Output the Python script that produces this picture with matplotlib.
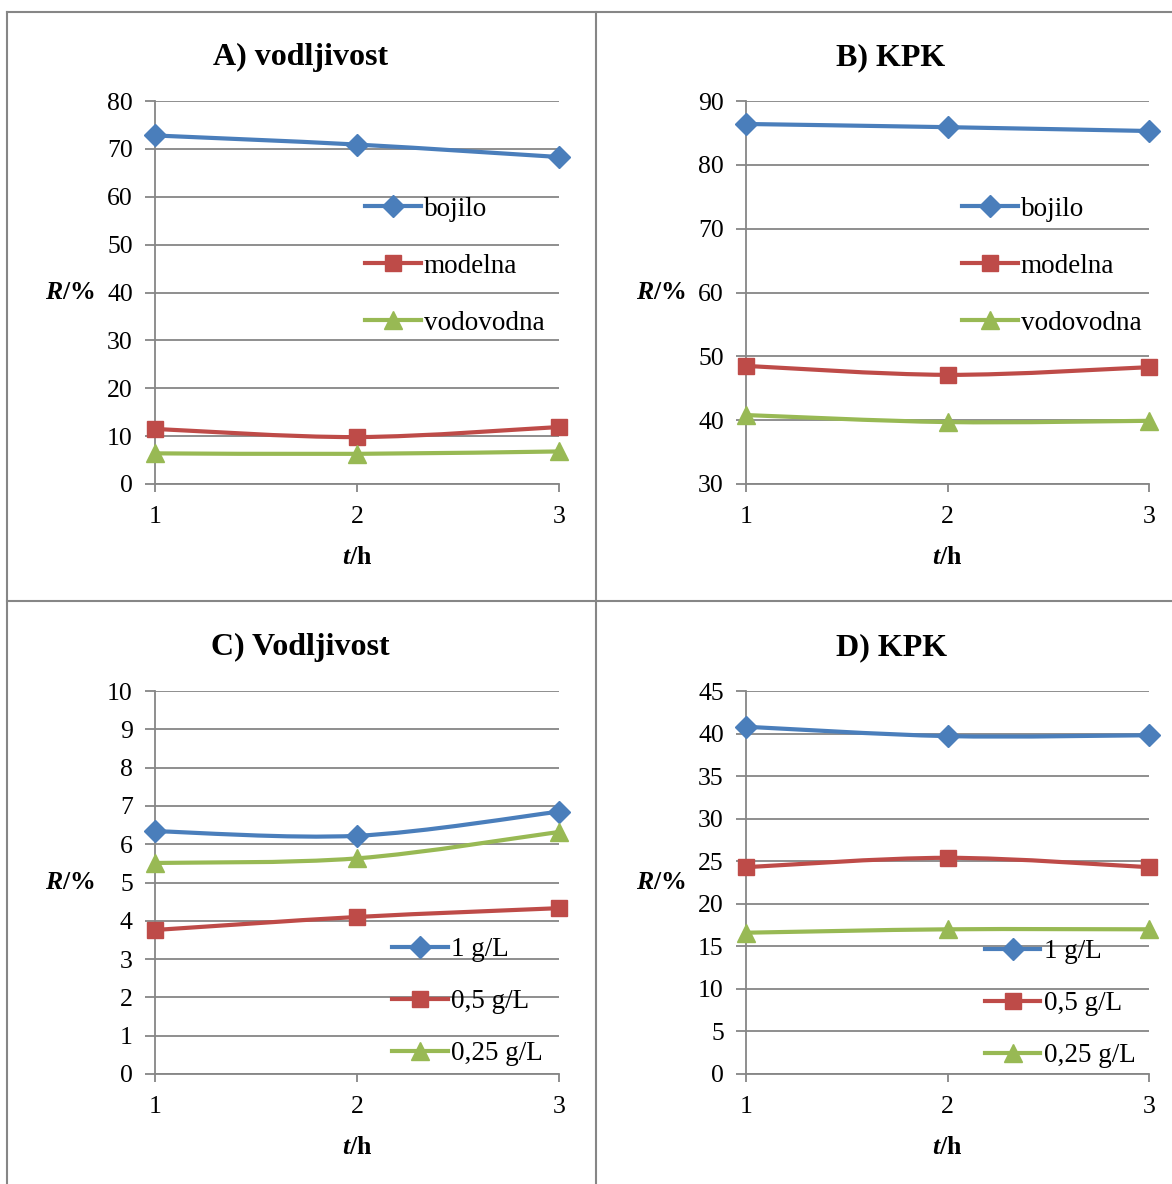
import numpy as np
import matplotlib
matplotlib.use('Agg')
from matplotlib import pyplot as plt
from matplotlib.path import Path
from matplotlib.patches import PathPatch
from matplotlib.lines import Line2D

plt.rcParams['font.family'] = ['Liberation Serif', 'DejaVu Serif']
plt.rcParams['mathtext.fontset'] = 'custom'
plt.rcParams['mathtext.rm'] = 'Liberation Serif'
plt.rcParams['mathtext.it'] = 'Liberation Serif:italic:bold'
plt.rcParams['mathtext.bf'] = 'Liberation Serif:bold'

# data
hours = [1, 2, 3]

a_bojilo = [72.8, 70.9, 68.3]
a_modelna = [11.5, 9.8, 11.9]
a_vodovodna = [6.4, 6.3, 6.8]

b_bojilo = [86.4, 85.9, 85.3]
b_modelna = [48.5, 47.1, 48.3]
b_vodovodna = [40.8, 39.7, 39.9]

c_1 = [6.34, 6.22, 6.85]
c_05 = [3.76, 4.10, 4.33]
c_025 = [5.51, 5.63, 6.32]

d_1 = [40.8, 39.7, 39.8]
d_05 = [24.3, 25.4, 24.3]
d_025 = [16.6, 17.0, 17.0]

names_ab = ['bojilo', 'modelna', 'vodovodna']
names_cd = ['1 g/L', '0,5 g/L', '0,25 g/L']

colors = ['#4A7EBB', '#BE4B48', '#98B954']
markers = ['D', 's', '^']
msizes = [11, 12, 13]

W, H = 1172, 1184
fig = plt.figure(figsize=(W / 100, H / 100), dpi=100)
grey = '#868686'


def px_axes(x0, x1, y_top, y_bot):
    return fig.add_axes([x0 / W, 1 - y_bot / H, (x1 - x0) / W, (y_bot - y_top) / H])


def smooth_path(xs, ys):
    # excel-like smoothed line (cubic bezier through the points)
    pts = list(zip(xs, ys))
    verts = [pts[0]]
    codes = [Path.MOVETO]
    n = len(pts)
    for i in range(n - 1):
        p0 = np.array(pts[max(i - 1, 0)])
        p1 = np.array(pts[i])
        p2 = np.array(pts[i + 1])
        p3 = np.array(pts[min(i + 2, n - 1)])
        c1 = p1 + (p2 - p0) / 6
        c2 = p2 - (p3 - p1) / 6
        verts += [tuple(c1), tuple(c2), tuple(p2)]
        codes += [Path.CURVE4] * 3
    return Path(verts, codes)


def panel(box, title, series, names, ymin, ymax, ystep, legpos, legspace):
    ax = px_axes(*box)
    for s, c, m, ms in zip(series, colors, markers, msizes):
        ax.add_patch(PathPatch(smooth_path(hours, s), facecolor='none',
                               edgecolor=c, lw=3, zorder=3, capstyle='round'))
        ax.plot(hours, s, ls='none', marker=m, ms=ms, color=c, zorder=4, clip_on=False)
    ax.set_xlim(1, 3)
    ax.set_ylim(ymin, ymax)
    ax.set_xticks(hours)
    ax.set_yticks(np.arange(ymin, ymax + ystep / 2, ystep))
    ax.grid(axis='y', color=grey, lw=1.3)
    ax.set_axisbelow(True)
    for side in ['top', 'right']:
        ax.spines[side].set_visible(False)
    for side in ['left', 'bottom']:
        ax.spines[side].set_color(grey)
        ax.spines[side].set_linewidth(1.3)
    ax.tick_params(axis='x', colors=grey, length=6, width=1.3, pad=10,
                   labelcolor='black', labelsize=18.5)
    ax.tick_params(axis='y', colors=grey, length=7, width=1.3, pad=9,
                   labelcolor='black', labelsize=18.5)
    ax.set_title(title, fontsize=23, fontweight='bold', pad=26, x=0.36)
    ax.set_xlabel(r'$\mathit{t}$/h', fontsize=18.5, fontweight='bold', labelpad=13)
    ax.set_ylabel(r'$\mathit{R}$/%', fontsize=18.5, fontweight='bold', rotation=0,
                  ha='right', va='center')
    ax.yaxis.set_label_coords(-0.15, 0.5)
    handles = [Line2D([], [], color=c, lw=3, marker=m, ms=ms)
               for c, m, ms in zip(colors, markers, msizes)]
    ax.legend(handles, names, loc='upper left', bbox_to_anchor=legpos,
              frameon=False, fontsize=19.5, handlelength=2.05, handletextpad=0.12,
              labelspacing=legspace, borderpad=0, borderaxespad=0)
    return ax


panel((155, 559, 101, 484), 'A) vodljivost', [a_bojilo, a_modelna, a_vodovodna],
      names_ab, 0, 80, 10, (0.52, 0.75), 1.18)
panel((746, 1149, 101, 484), 'B) KPK', [b_bojilo, b_modelna, b_vodovodna],
      names_ab, 30, 90, 10, (0.536, 0.75), 1.18)
panel((155, 559, 691, 1074), 'C) Vodljivost', [c_1, c_05, c_025],
      names_cd, 0, 10, 1, (0.587, 0.357), 1.0)
panel((746, 1149, 691, 1074), 'D) KPK', [d_1, d_05, d_025],
      names_cd, 0, 45, 5, (0.593, 0.352), 1.0)

# table borders
for xx in [7, 596]:
    fig.add_artist(Line2D([xx / W, xx / W], [0, 1 - 12 / H], color=grey, lw=1.5))
for yy in [12, 601]:
    fig.add_artist(Line2D([7 / W, 1], [1 - yy / H, 1 - yy / H], color=grey, lw=1.5))

fig.savefig('out.png', dpi=100)
